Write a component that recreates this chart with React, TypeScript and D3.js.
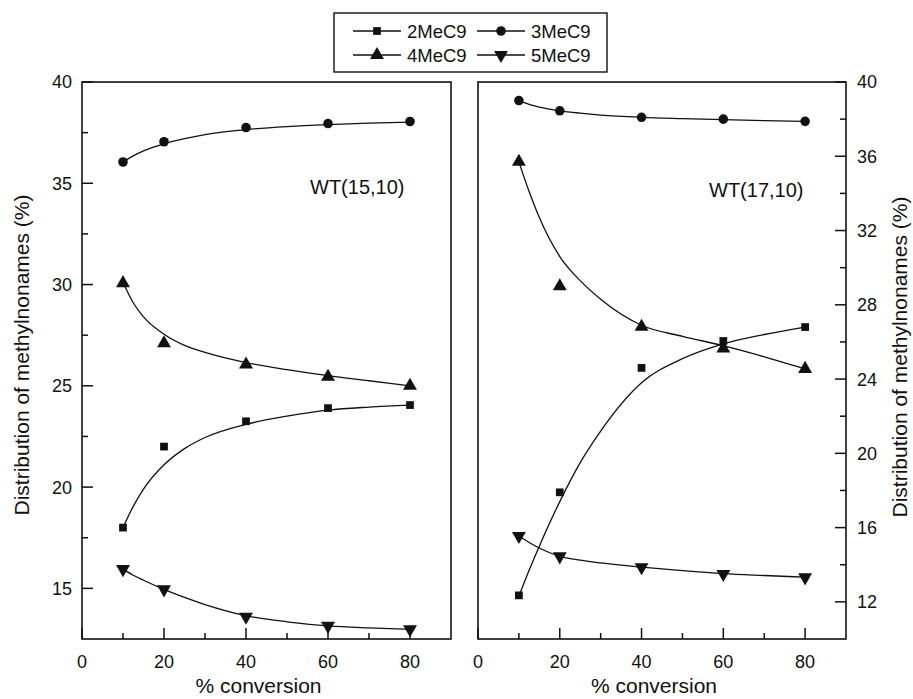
import React from 'react';
import * as d3 from 'd3';

// measured points (% conversion on x)
const conversion = [10, 20, 40, 60, 80];
const seriesNames = ['2MeC9', '3MeC9', '4MeC9', '5MeC9'];

const wt15_2MeC9 = [18.0, 22.0, 23.25, 23.9, 24.05];
const wt15_3MeC9 = [36.05, 37.05, 37.75, 37.95, 38.05];
const wt15_4MeC9 = [30.07, 27.1, 26.05, 25.45, 25.0];
const wt15_5MeC9 = [15.95, 14.95, 13.6, 13.15, 12.98];

const wt17_2MeC9 = [12.35, 17.9, 24.6, 26.05, 26.8];
const wt17_3MeC9 = [39.0, 38.45, 38.1, 38.0, 37.88];
const wt17_4MeC9 = [35.7, 29.0, 26.82, 25.65, 24.55];
const wt17_5MeC9 = [15.55, 14.45, 13.87, 13.5, 13.32];

// fitted curves
const fitConversion = [10, 12.5, 15, 20, 25, 30, 40, 50, 60, 70, 80];
const wt15_2MeC9_fit = [18.0, 19.05, 19.9, 21.1, 21.9, 22.45, 23.1, 23.5, 23.8, 23.95, 24.05];
const wt15_3MeC9_fit = [36.05, 36.35, 36.6, 36.95, 37.2, 37.4, 37.65, 37.8, 37.9, 37.97, 38.02];
const wt15_4MeC9_fit = [30.1, 29.1, 28.4, 27.55, 27.0, 26.65, 26.15, 25.8, 25.5, 25.25, 25.0];
const wt15_5MeC9_fit = [15.95, 15.65, 15.4, 14.95, 14.55, 14.2, 13.65, 13.35, 13.15, 13.05, 12.98];

const wt17_2MeC9_fit = [12.3, 13.7, 15.0, 17.4, 19.5, 21.2, 23.8, 25.1, 25.9, 26.4, 26.8];
const wt17_3MeC9_fit = [38.98, 38.8, 38.65, 38.45, 38.32, 38.22, 38.1, 38.03, 37.97, 37.92, 37.88];
const wt17_4MeC9_fit = [35.7, 34.1, 32.7, 30.6, 29.3, 28.3, 26.9, 26.3, 25.8, 25.2, 24.55];
const wt17_5MeC9_fit = [15.55, 15.2, 14.9, 14.45, 14.25, 14.1, 13.87, 13.68, 13.52, 13.42, 13.33];

// ticks
const xMajorTicks = [0, 20, 40, 60, 80];
const xMinorTicks = [10, 30, 50, 70];
const leftMajorTicks = [15, 20, 25, 30, 35, 40];
const leftMinorTicks = [17.5, 22.5, 27.5, 32.5, 37.5];
const rightMajorTicks = [12, 16, 20, 24, 28, 32, 36, 40];
const rightMinorTicks = [14, 18, 22, 26, 30, 34, 38];

const font = '"Liberation Sans", Arial, Helvetica, sans-serif';
const ink = '#111';
const plotTop = 82;
const plotBottom = 639;
const majorLen = 11;
const minorLen = 6;

const symbols: Record<string, string> = {
  '2MeC9': d3.symbol(d3.symbolSquare, 60)() as string,
  '3MeC9': d3.symbol(d3.symbolCircle, 72)() as string,
  '4MeC9': d3.symbol(d3.symbolTriangle, 84)() as string,
  '5MeC9': d3.symbol(d3.symbolTriangle, 84)() as string,
};

const Marker = ({ name, x, y }: { name: string; x: number; y: number }) => (
  <path
    d={symbols[name]}
    fill={ink}
    transform={`translate(${x},${y})${name === '5MeC9' ? ' rotate(180)' : ''}`}
  />
);

const Panel = ({ left, right, yDomain, points, fits, label, labelPos, side, majorTicks, minorTicks }: any) => {
  const x = d3.scaleLinear().domain([0, 90]).range([left, right]);
  const y = d3.scaleLinear().domain(yDomain).range([plotBottom, plotTop]);
  const line = d3
    .line<number>()
    .x((_, i) => x(fitConversion[i]))
    .y((d) => y(d))
    .curve(d3.curveMonotoneX);
  const axisX = side === 'left' ? left : right;
  const dir = side === 'left' ? 1 : -1;
  return (
    <g>
      {fits.map((f: number[], i: number) => (
        <path key={`fit-${i}`} d={line(f) as string} fill="none" stroke={ink} strokeWidth={1.3} />
      ))}
      {points.map((s: number[], i: number) =>
        s.map((v, j) => <Marker key={`m-${i}-${j}`} name={seriesNames[i]} x={x(conversion[j])} y={y(v)} />)
      )}
      <rect x={left} y={plotTop} width={right - left} height={plotBottom - plotTop} fill="none" stroke={ink} strokeWidth={1.6} />
      {xMajorTicks.map((t) => (
        <g key={`xt-${t}`}>
          <line x1={x(t)} x2={x(t)} y1={plotBottom} y2={plotBottom - majorLen} stroke={ink} strokeWidth={1.5} />
          <text x={x(t)} y={668} textAnchor="middle" fontSize={18} fontFamily={font} fill={ink}>
            {t}
          </text>
        </g>
      ))}
      {xMinorTicks.map((t) => (
        <line key={`xm-${t}`} x1={x(t)} x2={x(t)} y1={plotBottom} y2={plotBottom - minorLen} stroke={ink} strokeWidth={1.5} />
      ))}
      {majorTicks.map((t: number) => (
        <g key={`yt-${t}`}>
          <line x1={axisX} x2={axisX + dir * majorLen} y1={y(t)} y2={y(t)} stroke={ink} strokeWidth={1.5} />
          <text
            x={side === 'left' ? axisX - 10 : axisX + 11}
            y={y(t)}
            dy="0.36em"
            textAnchor={side === 'left' ? 'end' : 'start'}
            fontSize={18}
            fontFamily={font}
            fill={ink}
          >
            {t}
          </text>
        </g>
      ))}
      {minorTicks.map((t: number) => (
        <line key={`ym-${t}`} x1={axisX} x2={axisX + dir * minorLen} y1={y(t)} y2={y(t)} stroke={ink} strokeWidth={1.5} />
      ))}
      <text x={labelPos[0]} y={labelPos[1]} fontSize={20} fontFamily={font} fill={ink}>
        {label}
      </text>
      <text x={(left + right) / 2 - 8} y={693} textAnchor="middle" fontSize={21} fontFamily={font} fill={ink}>
        % conversion
      </text>
    </g>
  );
};

const Legend = () => {
  const cols = [353, 477];
  const rows = [31, 55];
  return (
    <g>
      <rect x={334} y={13} width={273} height={59} fill="#fff" stroke={ink} strokeWidth={1.4} />
      {seriesNames.map((name, i) => {
        const cx = cols[i % 2];
        const cy = rows[Math.floor(i / 2)];
        return (
          <g key={name}>
            <line x1={cx} x2={cx + 48} y1={cy} y2={cy} stroke={ink} strokeWidth={1.3} />
            <Marker name={name} x={cx + 24} y={cy} />
            <text x={cx + 54} y={cy} dy="0.36em" fontSize={18.5} fontFamily={font} fill={ink}>
              {name}
            </text>
          </g>
        );
      })}
    </g>
  );
};

const yTitle = 'Distribution of methylnonames (%)';

export default function App() {
  return (
    <svg width={913} height={699} style={{ position: 'absolute', left: 0, top: 0, background: '#fff' }}>
      <Panel
        left={82}
        right={451}
        yDomain={[12.5, 40]}
        points={[wt15_2MeC9, wt15_3MeC9, wt15_4MeC9, wt15_5MeC9]}
        fits={[wt15_2MeC9_fit, wt15_3MeC9_fit, wt15_4MeC9_fit, wt15_5MeC9_fit]}
        label="WT(15,10)"
        labelPos={[310, 194]}
        side="left"
        majorTicks={leftMajorTicks}
        minorTicks={leftMinorTicks}
      />
      <Panel
        left={478}
        right={846}
        yDomain={[10, 40]}
        points={[wt17_2MeC9, wt17_3MeC9, wt17_4MeC9, wt17_5MeC9]}
        fits={[wt17_2MeC9_fit, wt17_3MeC9_fit, wt17_4MeC9_fit, wt17_5MeC9_fit]}
        label="WT(17,10)"
        labelPos={[709, 197]}
        side="right"
        majorTicks={rightMajorTicks}
        minorTicks={rightMinorTicks}
      />
      <text transform="translate(29,355) rotate(-90)" textAnchor="middle" fontSize={21} fontFamily={font} fill={ink}>
        {yTitle}
      </text>
      <text transform="translate(907,357) rotate(-90)" textAnchor="middle" fontSize={21} fontFamily={font} fill={ink}>
        {yTitle}
      </text>
      <Legend />
    </svg>
  );
}
